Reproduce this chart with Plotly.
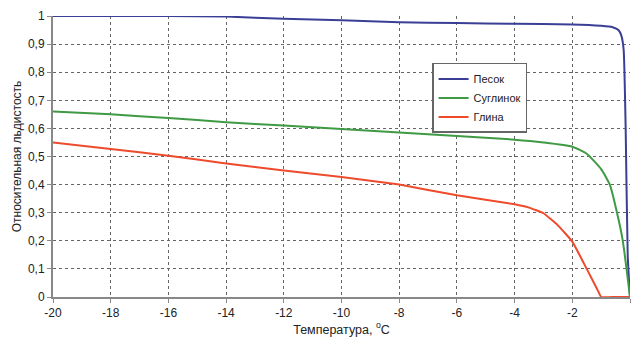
import plotly.graph_objects as go

sand_x = [-20, -16, -14, -12, -10, -8, -6, -4, -2, -1, -0.6, -0.4, -0.3, -0.22, -0.15, -0.08, 0]
sand_y = [1.0, 1.0, 0.998, 0.99, 0.985, 0.978, 0.975, 0.972, 0.97, 0.965, 0.96, 0.95, 0.93, 0.88, 0.6, 0.15, 0.0]

loam_x = [-20, -18, -16, -14, -12, -10, -8, -6, -4, -3, -2, -1.5, -1, -0.7, -0.45, -0.25, 0]
loam_y = [0.66, 0.65, 0.637, 0.622, 0.61, 0.598, 0.585, 0.573, 0.56, 0.55, 0.535, 0.51, 0.455, 0.40, 0.30, 0.20, 0.0]

clay_x = [-20, -18, -16, -14, -12, -10, -8, -6, -4, -3.5, -3, -2.5, -2, -1.5, -1.1, -1, -0.5, 0]
clay_y = [0.55, 0.527, 0.503, 0.475, 0.45, 0.427, 0.40, 0.362, 0.33, 0.318, 0.298, 0.255, 0.197, 0.1, 0.02, 0.0, 0.0, 0.0]

x_ticks = [-20, -18, -16, -14, -12, -10, -8, -6, -4, -2, 0]
x_tick_labels = ["-20", "-18", "-16", "-14", "-12", "-10", "-8", "-6", "-4", "-2", "0"]
y_ticks = [0, 0.1, 0.2, 0.3, 0.4, 0.5, 0.6, 0.7, 0.8, 0.9, 1]
y_tick_labels = ["0", "0,1", "0,2", "0,3", "0,4", "0,5", "0,6", "0,7", "0,8", "0,9", "1"]

names = ["Песок", "Суглинок", "Глина"]
colors = ["#3a3f95", "#3f9a44", "#ee4a2c"]
smooth = [0.5, 0.5, 0.35]
clip = [False, False, True]

fig = go.Figure()
for xs, ys, n, c, s, cl in zip([sand_x, loam_x, clay_x], [sand_y, loam_y, clay_y], names, colors, smooth, clip):
    fig.add_trace(go.Scatter(x=xs, y=ys, name=n, mode="lines",
                             line=dict(color=c, width=2, shape="spline", smoothing=s),
                             cliponaxis=cl))

font_fam = "Liberation Sans, Arial, sans-serif"
fig.update_layout(
    width=633, height=342,
    margin=dict(l=53, r=3, t=16, b=45),
    paper_bgcolor="white", plot_bgcolor="white",
    font=dict(family=font_fam, size=12, color="#222"),
    showlegend=True,
    legend=dict(x=0.657, y=0.833, xanchor="left", yanchor="top",
                bgcolor="white", bordercolor="#666", borderwidth=1.5,
                font=dict(size=11, color="#222"), tracegroupgap=0,
                itemwidth=30),
    xaxis=dict(range=[-20, 0], tickmode="array", tickvals=x_ticks, ticktext=x_tick_labels,
               showgrid=True, gridcolor="#666", griddash="dot", gridwidth=1,
               showline=True, linecolor="#888", linewidth=2,
               ticks="outside", ticklen=4, tickcolor="#888",
               zeroline=False,
               title=dict(text="Температура, <sup>o</sup>C", standoff=3, font=dict(size=12.5))),
    yaxis=dict(range=[0, 1], tickmode="array", tickvals=y_ticks, ticktext=y_tick_labels,
               showgrid=True, gridcolor="#666", griddash="dot", gridwidth=1,
               showline=True, linecolor="#888", linewidth=2,
               ticks="outside", ticklen=4, tickcolor="#888",
               zeroline=False,
               title=dict(text="Относительная льдистость", standoff=4, font=dict(size=12))),
)

fig.write_html("out.html")
